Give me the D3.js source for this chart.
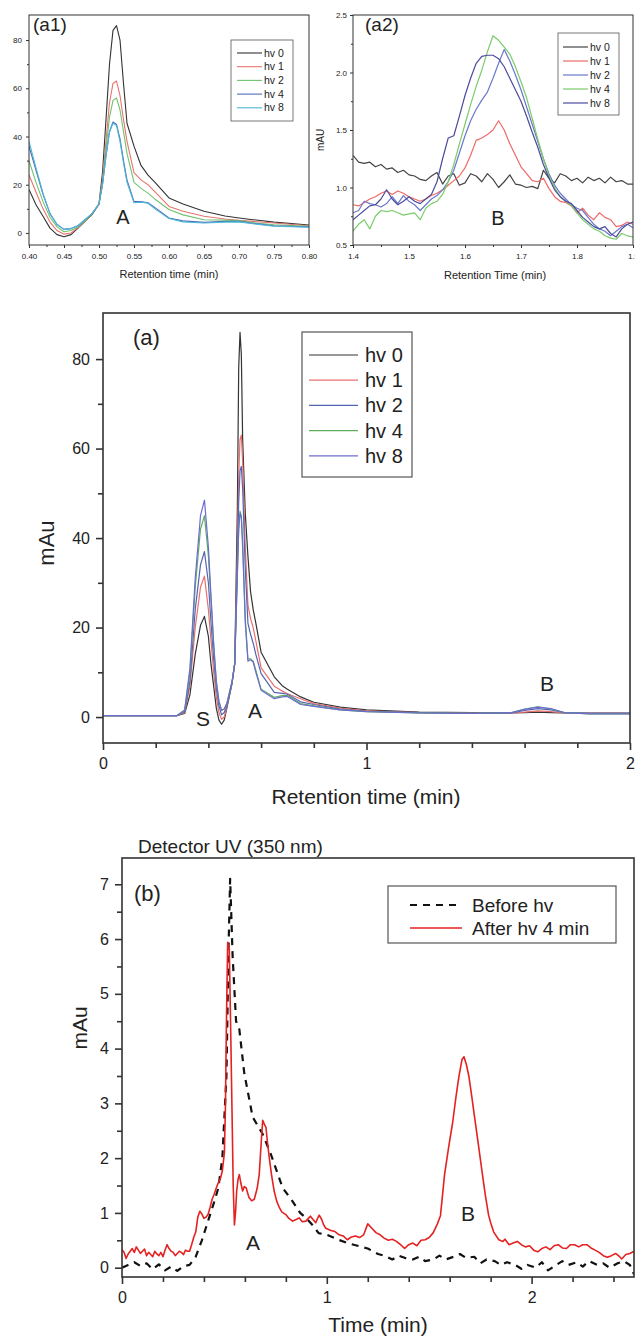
<!DOCTYPE html>
<html>
<head>
<meta charset="UTF-8">
<title>HPLC chromatograms before / after irradiation</title>
<script src="https://cdn.jsdelivr.net/npm/d3@7"></script>
<style>
  body { margin: 0; background: #fff; }
  svg text { font-family: "Liberation Sans", Arial, sans-serif; fill: #222; }
</style>
</head>
<body>
<div id="chart"></div>
<script>
// ---- data ----
const seriesNames = ["hv 0", "hv 1", "hv 2", "hv 4", "hv 8"];

// (a1) zoom on peak A
const a1X   = [0.40,0.41,0.42,0.43,0.44,0.45,0.46,0.47,0.48,0.49,0.50,0.505,0.51,0.515,0.52,0.525,0.53,0.535,0.54,0.55,0.56,0.57,0.58,0.60,0.62,0.65,0.68,0.70,0.72,0.75,0.80];
const a1Hv0 = [18,11.7,6.9,2,-0.7,-1.6,-0.7,2,4.8,7.6,12,25,47,70,84,86,80,62,45.5,36,28,24,21,14.5,12,9,7,6.2,5.5,4.5,3.3];
const a1Hv1 = [24,17,10,4.5,1,-0.5,0,2.2,5,7.8,12,22,38,54,62,63,57,47,38,25,22,20,17,11,9,6.9,5.8,5.2,4.8,4.1,3];
const a1Hv2 = [30,21,13,6.5,2.5,0.5,1,2.5,5,7.8,12,21,35,48,55,56,51,42,33,21,18.5,16.5,14,9.7,7.5,5.5,5.3,5.1,4.3,3.4,2.8];
const a1Hv4 = [36,26,16,8,3.5,1.5,1.8,3,5.5,8,12,20,32,42,46,45,39,30,22,13,13,12.5,10.5,6.2,5,4.4,4.8,4.8,4,3,2.5];
const a1Hv8 = [38,27,16.5,8,3.5,1.5,1.8,3,5.5,8,12,20,32,42,45.5,44.5,38,29,21,12.5,12.8,12.3,10,6,4.6,4.1,4.5,4.6,3.8,2.8,2.4];

// (a2) zoom on peak B
const a2X   = [1.40,1.41,1.42,1.43,1.44,1.45,1.46,1.47,1.48,1.49,1.50,1.51,1.52,1.53,1.54,1.55,1.56,1.57,1.58,1.59,1.60,1.61,1.62,1.63,1.64,1.65,1.66,1.67,1.68,1.69,1.70,1.71,1.72,1.73,1.74,1.75,1.76,1.77,1.78,1.79,1.80,1.81,1.82,1.83,1.84,1.85,1.86,1.87,1.88,1.89,1.90];
const a2Hv0 = [1.28,1.22,1.21,1.22,1.18,1.20,1.16,1.17,1.13,1.15,1.11,1.10,1.07,1.06,1.10,1.13,1.03,1.10,1.12,1.02,1.04,1.12,1.10,1.05,1.12,1.07,1.00,1.05,1.11,1.03,1.02,1.00,1.01,0.99,1.15,1.08,1.04,1.12,1.10,1.06,1.08,1.04,1.09,1.06,1.08,1.04,1.09,1.05,1.06,1.03,1.03];
const a2Hv1 = [0.85,0.84,0.87,0.90,0.92,0.95,0.97,0.94,0.97,0.95,0.92,0.90,0.88,0.90,0.93,0.95,0.98,1.02,1.06,1.10,1.17,1.28,1.41,1.43,1.46,1.50,1.58,1.50,1.38,1.28,1.18,1.12,1.06,1.05,1.08,0.99,0.92,0.88,0.87,0.84,0.78,0.82,0.76,0.72,0.78,0.74,0.72,0.66,0.67,0.70,0.68];
const a2Hv2 = [0.78,0.80,0.88,0.86,0.85,0.83,0.86,0.92,0.86,0.93,0.88,0.85,0.80,0.85,0.90,0.93,0.98,1.05,1.15,1.30,1.45,1.58,1.68,1.76,1.83,1.95,2.08,2.20,2.10,1.98,1.85,1.70,1.55,1.40,1.25,1.12,1.02,0.95,0.90,0.85,0.82,0.80,0.74,0.68,0.64,0.62,0.58,0.62,0.66,0.68,0.65];
const a2Hv4 = [0.62,0.68,0.72,0.64,0.75,0.80,0.79,0.80,0.78,0.76,0.77,0.78,0.72,0.82,0.86,0.88,0.94,1.05,1.20,1.38,1.55,1.72,1.88,2.02,2.18,2.32,2.28,2.22,2.16,2.05,1.92,1.78,1.60,1.42,1.25,1.10,1.00,0.92,0.88,0.84,0.78,0.72,0.68,0.64,0.62,0.58,0.56,0.55,0.60,0.58,0.57];
const a2Hv8 = [0.72,0.76,0.80,0.84,0.85,0.90,0.98,0.90,0.85,0.88,0.92,0.88,0.86,0.90,0.94,1.05,1.25,1.43,1.45,1.62,1.80,1.95,2.08,2.14,2.15,2.15,2.12,2.05,1.95,1.85,1.75,1.62,1.48,1.35,1.20,1.08,0.98,0.92,0.88,0.86,0.80,0.74,0.70,0.66,0.64,0.66,0.60,0.57,0.64,0.68,0.70];

// (a) full chromatograms
const aX   = [0,0.1,0.2,0.28,0.31,0.33,0.35,0.37,0.385,0.40,0.41,0.42,0.43,0.44,0.45,0.46,0.47,0.48,0.49,0.50,0.51,0.515,0.52,0.525,0.53,0.54,0.55,0.56,0.57,0.58,0.60,0.65,0.68,0.70,0.75,0.80,0.90,1.0,1.2,1.4,1.55,1.6,1.65,1.7,1.75,1.85,2.0];
const aHv0 = [0.3,0.3,0.3,0.3,0.8,5,14,20.5,22.5,18,11.7,6.9,2,-0.7,-1.6,-0.7,2,4.8,7.6,12,47,78,86,81,62,45.5,36,28,24,21,14.5,9,7,6.2,4.5,3.3,2.2,1.6,1.1,1.0,0.9,1.0,1.1,1.0,0.9,0.9,0.9];
const aHv1 = [0.3,0.3,0.3,0.3,1.0,7,20,29,31.5,24,17,10,4.5,1,-0.5,0,2.2,5,7.8,12,38,54,62,63,57,38,25,22,20,17,11,6.9,5.8,5.2,4.1,3,2,1.4,1.0,0.9,0.9,1.1,1.4,1.2,0.9,0.8,0.8];
const aHv2 = [0.3,0.3,0.3,0.3,1.2,8,24,34,37,30,21,13,6.5,2.5,0.5,1,2.5,5,7.8,12,35,48,55,56,51,33,21,18.5,16.5,14,9.7,5.5,5.3,5.1,3.4,2.8,1.8,1.3,1.0,0.8,0.9,1.5,1.9,1.6,1.0,0.8,0.8];
const aHv4 = [0.3,0.3,0.3,0.3,1.5,10,29,42,45,36,26,16,8,3.5,1.5,1.8,3,5.5,8,12,32,42,46,45,39,22,13,13,12.5,10.5,6.2,4.4,4.8,4.8,3,2.5,1.6,1.2,0.9,0.8,1.0,1.8,2.3,1.8,1.0,0.7,0.7];
const aHv8 = [0.3,0.3,0.3,0.3,1.6,11,31,45,48.5,38,27,16.5,8,3.5,1.5,1.8,3,5.5,8,12,32,42,45.5,44.5,38,21,12.5,12.8,12.3,10,6,4.1,4.5,4.6,2.8,2.4,1.6,1.2,0.9,0.8,1.0,1.7,2.2,1.9,1.0,0.7,0.7];

// (b) detector UV 350 nm
const bNames   = ["Before hv", "After hv 4 min"];
const bBeforeX = [0,0.03,0.06,0.09,0.12,0.15,0.18,0.21,0.24,0.27,0.30,0.33,0.36,0.39,0.42,0.45,0.47,0.49,0.51,0.52,0.528,0.54,0.557,0.573,0.597,0.638,0.687,0.727,0.784,0.833,0.87,0.90,0.93,0.96,1.00,1.05,1.10,1.15,1.20,1.25,1.28,1.32,1.35,1.38,1.42,1.45,1.48,1.52,1.55,1.58,1.62,1.65,1.68,1.72,1.75,1.78,1.82,1.85,1.88,1.92,1.95,1.98,2.02,2.05,2.08,2.12,2.15,2.18,2.22,2.25,2.28,2.32,2.35,2.38,2.42,2.45,2.48,2.50];
const bBeforeY = [0,0.05,0.10,0.03,0.08,-0.03,0.06,-0.05,0.02,-0.06,0.03,0.05,0.20,0.50,0.85,1.20,1.45,2.00,3.50,5.80,7.10,5.70,4.50,4.35,3.55,2.75,2.44,2.07,1.46,1.21,1.00,0.90,0.78,0.63,0.60,0.52,0.45,0.40,0.35,0.25,0.22,0.15,0.22,0.18,0.15,0.20,0.12,0.15,0.22,0.15,0.20,0.25,0.18,0.20,0.08,0.15,0.12,0.05,0.10,0.05,-0.02,0.05,0.00,0.10,-0.05,0.05,0.12,0.05,0.10,0.02,0.12,0.05,0.08,0.00,0.08,0.12,0.05,-0.12];
const bAfterX  = [0,0.01,0.02,0.03,0.04,0.05,0.06,0.07,0.08,0.09,0.10,0.11,0.12,0.13,0.14,0.15,0.16,0.17,0.18,0.19,0.20,0.21,0.22,0.23,0.24,0.25,0.26,0.27,0.28,0.29,0.30,0.31,0.32,0.33,0.34,0.35,0.36,0.37,0.38,0.39,0.40,0.41,0.42,0.43,0.44,0.45,0.46,0.47,0.48,0.49,0.50,0.505,0.51,0.516,0.524,0.53,0.537,0.543,0.549,0.555,0.56,0.567,0.573,0.58,0.589,0.597,0.606,0.62,0.633,0.646,0.66,0.67,0.68,0.687,0.695,0.703,0.71,0.719,0.73,0.743,0.755,0.768,0.78,0.80,0.815,0.833,0.85,0.865,0.88,0.898,0.91,0.92,0.935,0.946,0.955,0.963,0.975,0.985,0.995,1.02,1.04,1.06,1.08,1.10,1.12,1.14,1.16,1.18,1.20,1.22,1.24,1.26,1.28,1.30,1.32,1.34,1.36,1.38,1.40,1.42,1.44,1.46,1.48,1.50,1.52,1.54,1.555,1.575,1.595,1.615,1.63,1.645,1.66,1.67,1.682,1.694,1.707,1.72,1.74,1.76,1.775,1.79,1.80,1.815,1.84,1.86,1.87,1.89,1.91,1.93,1.95,1.97,1.99,2.01,2.03,2.05,2.07,2.09,2.11,2.13,2.15,2.17,2.19,2.21,2.23,2.25,2.27,2.29,2.31,2.33,2.35,2.37,2.39,2.41,2.43,2.44,2.46,2.48,2.50];
const bAfterY  = [0.33,0.28,0.17,0.25,0.30,0.35,0.28,0.38,0.32,0.26,0.30,0.34,0.22,0.28,0.24,0.20,0.30,0.25,0.22,0.28,0.20,0.32,0.42,0.35,0.30,0.28,0.22,0.26,0.30,0.28,0.24,0.32,0.30,0.30,0.42,0.55,0.65,0.92,1.03,0.98,0.90,0.92,0.97,1.10,1.25,1.34,1.45,1.55,1.62,1.77,2.10,2.93,4.50,5.94,5.80,4.50,2.90,1.50,0.78,1.05,1.40,1.62,1.70,1.55,1.40,1.48,1.46,1.28,1.22,1.25,1.45,1.70,2.30,2.69,2.62,2.56,2.30,2.01,1.70,1.40,1.22,1.10,1.02,0.97,0.90,0.85,0.88,0.91,0.84,0.85,0.90,0.94,0.87,0.82,0.90,0.96,0.88,0.78,0.72,0.68,0.66,0.60,0.58,0.51,0.56,0.58,0.55,0.60,0.80,0.72,0.64,0.60,0.54,0.50,0.52,0.48,0.42,0.35,0.42,0.45,0.40,0.50,0.51,0.55,0.64,0.80,0.95,1.70,2.20,2.66,3.10,3.49,3.80,3.85,3.70,3.49,3.15,2.79,2.25,1.70,1.30,0.96,0.82,0.65,0.51,0.48,0.52,0.42,0.45,0.48,0.42,0.38,0.40,0.32,0.29,0.35,0.38,0.33,0.40,0.42,0.36,0.35,0.42,0.42,0.38,0.42,0.42,0.36,0.32,0.28,0.22,0.19,0.22,0.26,0.20,0.16,0.24,0.26,0.30];

// tick values
const a1XTicks = [0.40,0.45,0.50,0.55,0.60,0.65,0.70,0.75,0.80];
const a1YTicks = [0,20,40,60,80];
const a2XTicks = [1.4,1.5,1.6,1.7,1.8,1.9];
const a2YTicks = [0.5,1.0,1.5,2.0,2.5];
const aXTicks  = [0,1,2];
const aYTicks  = [0,20,40,60,80];
const bXTicks  = [0,1,2];
const bYTicks  = [0,1,2,3,4,5,6,7];

const W = 635, H = 1337;
const svg = d3.select("#chart").append("svg")
    .attr("width", W).attr("height", H)
    .style("display", "block");

let clipId = 0;

function drawPanel(p) {
    const x = d3.scaleLinear().domain(p.xDomain).range([p.left, p.right]);
    const y = d3.scaleLinear().domain(p.yDomain).range([p.bottom, p.top]);
    const g = svg.append("g");

    const cid = "clip" + (clipId++);
    g.append("clipPath").attr("id", cid)
        .append("rect")
        .attr("x", p.left).attr("y", p.top)
        .attr("width", p.right - p.left).attr("height", p.bottom - p.top);

    // curves
    const line = d3.line().x(d => x(d[0])).y(d => y(d[1]));
    const lines = g.append("g").attr("clip-path", "url(#" + cid + ")");
    p.series.forEach(s => {
        lines.append("path")
            .datum(d3.zip(s.x, s.y))
            .attr("fill", "none")
            .attr("stroke", s.color)
            .attr("stroke-width", s.width || p.lineWidth)
            .attr("stroke-dasharray", s.dash || null)
            .attr("stroke-linejoin", "round")
            .attr("d", line);
    });

    // minor ticks
    const minorX = d3.axisBottom(x).tickValues(p.xMinor).tickSize(p.minorSize).tickFormat("");
    const minorY = d3.axisLeft(y).tickValues(p.yMinor).tickSize(p.minorSize).tickFormat("");
    g.append("g").attr("transform", `translate(0,${p.bottom})`).call(minorX);
    g.append("g").attr("transform", `translate(${p.left},0)`).call(minorY);

    // major ticks + labels
    const xAxis = d3.axisBottom(x).tickValues(p.xTicks).tickSize(p.majorSize)
        .tickPadding(p.xPad).tickFormat(p.xFormat);
    const yAxis = d3.axisLeft(y).tickValues(p.yTicks).tickSize(p.majorSize)
        .tickPadding(p.yPad).tickFormat(p.yFormat);
    g.append("g").attr("transform", `translate(0,${p.bottom})`).call(xAxis)
        .attr("font-size", p.tickFont).attr("font-family", null);
    g.append("g").attr("transform", `translate(${p.left},0)`).call(yAxis)
        .attr("font-size", p.tickFont).attr("font-family", null);

    g.selectAll(".domain").remove();
    g.selectAll(".tick line").attr("stroke", "#333").attr("stroke-width", p.frameWidth);
    g.selectAll(".tick text").attr("fill", "#333");

    // frame
    g.append("rect")
        .attr("x", p.left).attr("y", p.top)
        .attr("width", p.right - p.left).attr("height", p.bottom - p.top)
        .attr("fill", "none").attr("stroke", "#333").attr("stroke-width", p.frameWidth);

    // axis titles
    g.append("text")
        .attr("x", p.xTitle.x).attr("y", p.xTitle.y)
        .attr("text-anchor", "middle").attr("font-size", p.xTitle.size)
        .text(p.xTitle.text);
    if (p.yTitle) {
        g.append("text")
            .attr("transform", `translate(${p.yTitle.x},${p.yTitle.y}) rotate(-90)`)
            .attr("text-anchor", "middle").attr("font-size", p.yTitle.size)
            .text(p.yTitle.text);
    }

    // free labels: panel tag, peak letters
    p.labels.forEach(l => {
        g.append("text")
            .attr("x", l.x).attr("y", l.y)
            .attr("text-anchor", l.anchor || "middle")
            .attr("font-size", l.size)
            .text(l.text);
    });

    // legend
    const L = p.legend;
    const lg = g.append("g");
    lg.append("rect")
        .attr("x", L.x).attr("y", L.y).attr("width", L.w).attr("height", L.h)
        .attr("fill", "#fff").attr("stroke", "#555").attr("stroke-width", L.border);
    p.series.forEach((s, i) => {
        const yy = L.row0 + i * L.step;
        lg.append("line")
            .attr("x1", L.x1).attr("x2", L.x2).attr("y1", yy).attr("y2", yy)
            .attr("stroke", s.color).attr("stroke-width", s.legendWidth || s.width || p.lineWidth)
            .attr("stroke-dasharray", s.dash || null);
        lg.append("text")
            .attr("x", L.tx).attr("y", yy).attr("dy", "0.35em")
            .attr("font-size", L.size)
            .text(s.name);
    });
}

const fmt2 = d3.format(".2f");
const fmt1 = d3.format(".1f");
const fmt0 = d3.format("d");

// (a1)
const a1Colors = ["#333333", "#e8746e", "#72c270", "#4f6cb8", "#4cb6d6"];
const a1Vals = [a1Hv0, a1Hv1, a1Hv2, a1Hv4, a1Hv8];
drawPanel({
    left: 29, right: 309, top: 15, bottom: 245,
    xDomain: [0.40, 0.80], yDomain: [-5, 90.4],
    xTicks: a1XTicks, yTicks: a1YTicks,
    xMinor: [0.425,0.475,0.525,0.575,0.625,0.675,0.725,0.775],
    yMinor: [10,30,50,70],
    xFormat: fmt2, yFormat: fmt0,
    majorSize: 3, minorSize: 2, xPad: 5, yPad: 4, tickFont: 8,
    frameWidth: 1, lineWidth: 1.1,
    series: seriesNames.map((n, i) => ({ name: n, x: a1X, y: a1Vals[i], color: a1Colors[i] })),
    xTitle: { text: "Retention time (min)", x: 169, y: 278, size: 11 },
    yTitle: null,
    labels: [
        { text: "(a1)", x: 33, y: 31, size: 19, anchor: "start" },
        { text: "A", x: 123, y: 224, size: 20 }
    ],
    legend: { x: 231, y: 40, w: 62, h: 81, border: 0.8, row0: 53, step: 13.7,
              x1: 237, x2: 262, tx: 264, size: 10.5 }
});

// (a2)
const a2Colors = ["#444444", "#ee6a66", "#6a78cc", "#7acc6a", "#4b4b9e"];
const a2Vals = [a2Hv0, a2Hv1, a2Hv2, a2Hv4, a2Hv8];
drawPanel({
    left: 353, right: 633, top: 15, bottom: 245,
    xDomain: [1.4, 1.9], yDomain: [0.5, 2.5],
    xTicks: a2XTicks, yTicks: a2YTicks,
    xMinor: [1.45,1.55,1.65,1.75,1.85],
    yMinor: [0.75,1.25,1.75,2.25],
    xFormat: fmt1, yFormat: fmt1,
    majorSize: 3, minorSize: 2, xPad: 5, yPad: 3, tickFont: 8,
    frameWidth: 1, lineWidth: 1.2,
    series: seriesNames.map((n, i) => ({ name: n, x: a2X, y: a2Vals[i], color: a2Colors[i] })),
    xTitle: { text: "Retention Time (min)", x: 495, y: 279, size: 11 },
    yTitle: { text: "mAU", x: 324, y: 140, size: 10 },
    labels: [
        { text: "(a2)", x: 365, y: 31, size: 19, anchor: "start" },
        { text: "B", x: 498, y: 225, size: 20 }
    ],
    legend: { x: 558, y: 33, w: 61, h: 82, border: 0.8, row0: 47, step: 14,
              x1: 563, x2: 588, tx: 590, size: 10.5 }
});

// (a)
const aColors = ["#333333", "#e8706c", "#5564b2", "#5eae5e", "#6c6cd0"];
const aVals = [aHv0, aHv1, aHv2, aHv4, aHv8];
drawPanel({
    left: 103, right: 630, top: 313, bottom: 743,
    xDomain: [0, 2], yDomain: [-5.8, 90.3],
    xTicks: aXTicks, yTicks: aYTicks,
    xMinor: [0.2,0.4,0.6,0.8,1.2,1.4,1.6,1.8],
    yMinor: [10,30,50,70],
    xFormat: fmt0, yFormat: fmt0,
    majorSize: 7, minorSize: 5, xPad: 8, yPad: 6, tickFont: 16,
    frameWidth: 1.6, lineWidth: 1.2,
    series: seriesNames.map((n, i) => ({ name: n, x: aX, y: aVals[i], color: aColors[i] })),
    xTitle: { text: "Retention time (min)", x: 366, y: 804, size: 21 },
    yTitle: { text: "mAu", x: 54, y: 543, size: 22 },
    labels: [
        { text: "(a)", x: 133, y: 345, size: 22, anchor: "start" },
        { text: "S", x: 203, y: 726, size: 21 },
        { text: "A", x: 255, y: 718, size: 21 },
        { text: "B", x: 547, y: 691, size: 21 }
    ],
    legend: { x: 302, y: 332, w: 110, h: 145, border: 1.2, row0: 355, step: 25.2,
              x1: 309, x2: 358, tx: 365, size: 20 }
});

// (b)
drawPanel({
    left: 122, right: 634, top: 858, bottom: 1277,
    xDomain: [0, 2.5], yDomain: [-0.17, 7.48],
    xTicks: bXTicks, yTicks: bYTicks,
    xMinor: [0.2,0.4,0.6,0.8,1.2,1.4,1.6,1.8,2.2,2.4],
    yMinor: [0.5,1.5,2.5,3.5,4.5,5.5,6.5],
    xFormat: fmt0, yFormat: fmt0,
    majorSize: 7, minorSize: 5, xPad: 8, yPad: 6, tickFont: 16,
    frameWidth: 1.6, lineWidth: 1.6,
    series: [
        { name: bNames[0], x: bBeforeX, y: bBeforeY, color: "#111111", width: 2.2, dash: "7,6" },
        { name: bNames[1], x: bAfterX,  y: bAfterY,  color: "#e42222", width: 1.6 }
    ],
    xTitle: { text: "Time (min)", x: 378, y: 1332, size: 21 },
    yTitle: { text: "mAu", x: 87, y: 1028, size: 21 },
    labels: [
        { text: "Detector UV (350 nm)", x: 138, y: 853, size: 19, anchor: "start" },
        { text: "(b)", x: 134, y: 901, size: 22, anchor: "start" },
        { text: "A", x: 253, y: 1250, size: 21 },
        { text: "B", x: 468, y: 1221, size: 21 }
    ],
    legend: { x: 388, y: 886, w: 228, h: 57, border: 1.2, row0: 905, step: 23,
              x1: 410, x2: 462, tx: 472, size: 19 }
});
</script>
</body>
</html>
